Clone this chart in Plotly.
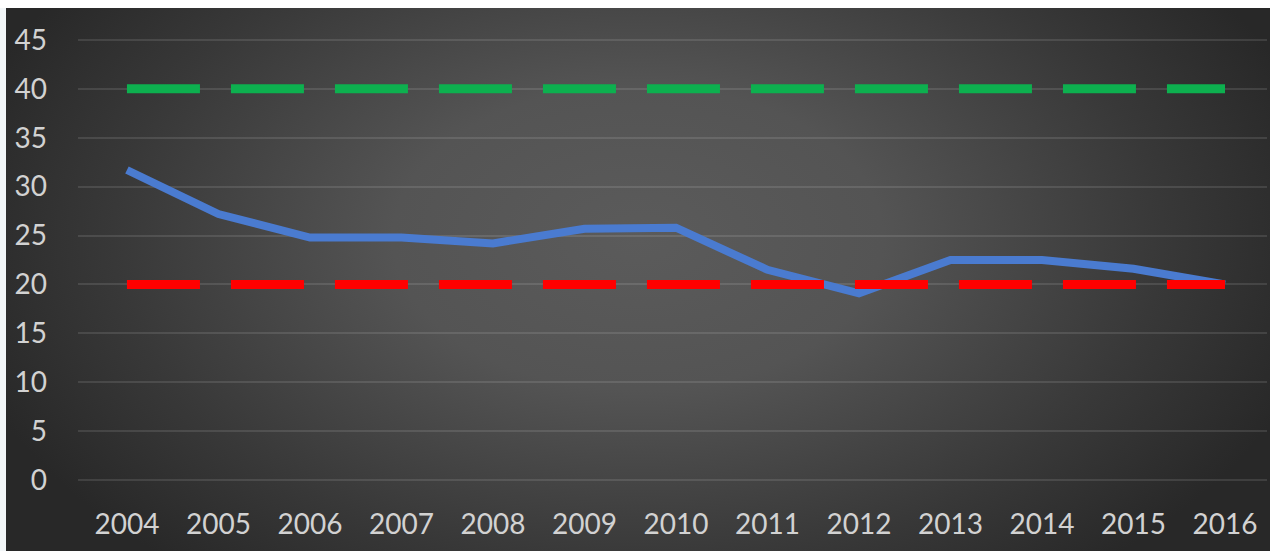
import base64
import plotly.graph_objects as go

years = ["2004", "2005", "2006", "2007", "2008", "2009", "2010",
         "2011", "2012", "2013", "2014", "2015", "2016"]
actual = [31.7, 27.2, 24.8, 24.8, 24.2, 25.7, 25.8, 21.5, 19.1, 22.5, 22.5, 21.6, 20.0]
upper = [40] * len(years)
lower = [20] * len(years)
y_ticks = [0, 5, 10, 15, 20, 25, 30, 35, 40, 45]

W, H = 1270, 551
L, R, T, B = 78, 3, 35, 66
pw, ph = W - L - R, H - T - B

svg = f'''<svg xmlns="http://www.w3.org/2000/svg" width="1264" height="543" viewBox="0 0 1264 543" preserveAspectRatio="none">
<defs><radialGradient id="g" cx="632" cy="230" r="700" gradientUnits="userSpaceOnUse" gradientTransform="translate(632 230) scale(1 0.62) translate(-632 -230)">
<stop offset="0" stop-color="#5b5b5b"/><stop offset="0.35" stop-color="#545454"/><stop offset="0.75" stop-color="#383838"/><stop offset="1" stop-color="#282828"/></radialGradient></defs>
<rect width="1264" height="543" fill="url(#g)"/></svg>'''
src = "data:image/svg+xml;base64," + base64.b64encode(svg.encode()).decode()

fig = go.Figure()
fig.add_trace(go.Scatter(x=years, y=actual, mode="lines",
                         line=dict(color="#4a7bd0", width=8), hoverinfo="skip"))
fig.add_trace(go.Scatter(x=years, y=upper, mode="lines",
                         line=dict(color="#0db04f", width=9, dash="73px,31px"), hoverinfo="skip"))
fig.add_trace(go.Scatter(x=years, y=lower, mode="lines",
                         line=dict(color="#ff0000", width=9, dash="73px,31px"), hoverinfo="skip"))

fig.add_layout_image(dict(source=src, xref="paper", yref="paper",
                          x=(6 - L) / pw, y=(H - B - 8) / ph,
                          sizex=(W - 6) / pw, sizey=(H - 8) / ph,
                          sizing="stretch", xanchor="left", yanchor="top",
                          layer="below"))
fig.add_shape(type="rect", xref="paper", yref="paper",
              x0=(0 - L) / pw, x1=(6 - L) / pw, y0=(H - B - H) / ph, y1=(H - B - 8) / ph,
              line=dict(width=0), fillcolor="#f2f6f8", layer="below")

fig.update_layout(
    width=W, height=H,
    margin=dict(l=L, r=R, t=T, b=B),
    paper_bgcolor="white",
    plot_bgcolor="rgba(0,0,0,0)",
    showlegend=False,
    font=dict(family="Lato, Carlito, sans-serif", color="#d2d2d2"),
    xaxis=dict(type="category", range=[-0.535, 12.459], showgrid=False,
               zeroline=False, showline=False, ticks="",
               tickfont=dict(size=28, color="#d2d2d2"), ticklabelstandoff=20),
    yaxis=dict(range=[-0.5, 45.5], tickvals=y_ticks, showgrid=True,
               gridcolor="rgba(255,255,255,0.11)", gridwidth=2,
               zeroline=False, showline=False, ticks="",
               tickfont=dict(size=28, color="#d2d2d2"), ticklabelstandoff=30),
)

fig.write_html("out.html")
